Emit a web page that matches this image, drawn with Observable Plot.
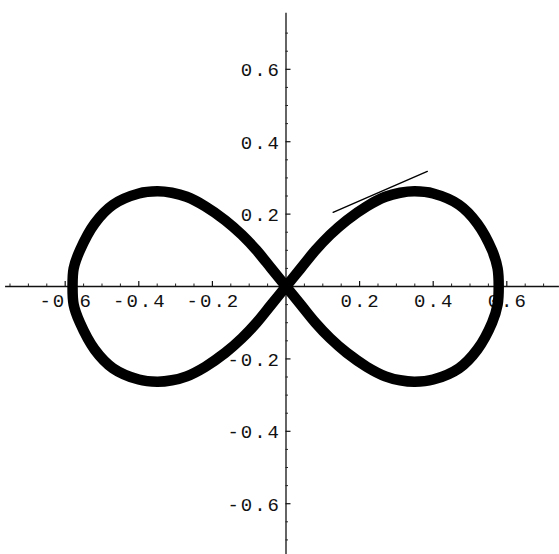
<!DOCTYPE html>
<html>
<head>
<meta charset="utf-8">
<script src="https://cdn.jsdelivr.net/npm/d3@7"></script>
<script src="https://cdn.jsdelivr.net/npm/@observablehq/plot@0.6"></script>
<style>
  html, body { margin: 0; padding: 0; background: #fff; }
</style>
</head>
<body>
<div id="chart"></div>
<script>
// Figure-eight curve, traced as one closed loop:
// origin → upper right → right tip → lower right → origin → upper left → left tip → lower left → origin
const loopX = [
  0, 0.04, 0.08, 0.12, 0.165, 0.22, 0.27, 0.31, 0.35, 0.40, 0.47, 0.52, 0.56, 0.575, 0.578,
  0.575, 0.56, 0.52, 0.47, 0.40, 0.35, 0.31, 0.27, 0.22, 0.165, 0.12, 0.08, 0.04, 0,
  -0.04, -0.08, -0.12, -0.165, -0.22, -0.27, -0.31, -0.35, -0.40, -0.47, -0.52, -0.56, -0.577, -0.58,
  -0.577, -0.56, -0.52, -0.47, -0.40, -0.35, -0.31, -0.27, -0.22, -0.165, -0.12, -0.08, -0.04, 0
];
const loopY = [
  0, 0.05, 0.10, 0.143, 0.183, 0.222, 0.248, 0.259, 0.263, 0.257, 0.226, 0.174, 0.10, 0.05, 0,
  -0.05, -0.10, -0.174, -0.226, -0.257, -0.263, -0.259, -0.248, -0.222, -0.183, -0.143, -0.10, -0.05, 0,
  0.05, 0.10, 0.143, 0.183, 0.222, 0.248, 0.259, 0.263, 0.257, 0.226, 0.174, 0.10, 0.05, 0,
  -0.05, -0.10, -0.174, -0.226, -0.257, -0.263, -0.259, -0.248, -0.222, -0.183, -0.143, -0.10, -0.05, 0
];

// Tangent segment on the upper right lobe
const tangentX = [0.128, 0.384];
const tangentY = [0.205, 0.318];

// Axis ticks and labels
const majorTicks = [-0.6, -0.4, -0.2, 0.2, 0.4, 0.6];
const tickLabels = ["-0.6", "-0.4", "-0.2", "0.2", "0.4", "0.6"];
const minorTicksX = [-0.75, -0.7, -0.65, -0.55, -0.5, -0.45, -0.35, -0.3, -0.25, -0.15, -0.1, -0.05,
                     0.05, 0.1, 0.15, 0.25, 0.3, 0.35, 0.45, 0.5, 0.55, 0.65, 0.7];
const minorTicksY = [-0.7, -0.65, -0.55, -0.5, -0.45, -0.35, -0.3, -0.25, -0.15, -0.1, -0.05,
                     0.05, 0.1, 0.15, 0.25, 0.3, 0.35, 0.45, 0.5, 0.55, 0.65, 0.7];

// Visible extent of the two axis lines
const xAxisExtent = [-0.762, 0.743];
const yAxisExtent = [-0.745, 0.755];

const W = 559, H = 554;
const xDomain = [-0.7758, 0.7432];
const yDomain = [-0.7403, 0.7901];
const unitX = (xDomain[1] - xDomain[0]) / W;   // data units per pixel
const unitY = (yDomain[1] - yDomain[0]) / H;
const majorLen = 5, minorLen = 2.5;

const loop = loopX.map((x, i) => ({x, y: loopY[i]}));
const tangent = tangentX.map((x, i) => ({x, y: tangentY[i]}));
const labels = majorTicks.map((v, i) => ({v, label: tickLabels[i]}));

const chart = Plot.plot({
  width: W,
  height: H,
  margin: 0,
  x: {domain: xDomain, range: [0, W], axis: null},
  y: {domain: yDomain, range: [H, 0], axis: null},
  style: {
    background: "#fff",
    fontFamily: "'Liberation Mono', 'DejaVu Sans Mono', monospace",
    fontSize: "19px",
    letterSpacing: "2px",
    color: "#000"
  },
  marks: [
    // axis lines through the origin
    Plot.ruleY([0], {x1: xAxisExtent[0], x2: xAxisExtent[1], stroke: "#111", strokeWidth: 1.3}),
    Plot.ruleX([0], {y1: yAxisExtent[0], y2: yAxisExtent[1], stroke: "#111", strokeWidth: 1.3}),
    // x-axis ticks (pointing up)
    Plot.ruleX(majorTicks, {y1: 0, y2: majorLen * unitY, stroke: "#111", strokeWidth: 1.2}),
    Plot.ruleX(minorTicksX, {y1: 0, y2: minorLen * unitY, stroke: "#222", strokeWidth: 1}),
    // y-axis ticks (pointing right)
    Plot.ruleY(majorTicks, {x1: 0, x2: majorLen * unitX, stroke: "#111", strokeWidth: 1.2}),
    Plot.ruleY(minorTicksY, {x1: 0, x2: minorLen * unitX, stroke: "#222", strokeWidth: 1}),
    // tick labels
    Plot.text(labels, {x: "v", y: 0, text: "label", dy: 14, dx: 1, fill: "#111", textAnchor: "middle"}),
    Plot.text(labels, {x: 0, y: "v", text: "label", dx: -5, dy: 1, fill: "#111", textAnchor: "end"}),
    // the figure-eight curve
    Plot.line(loop, {x: "x", y: "y", curve: "catmull-rom", stroke: "#000", strokeWidth: 10.5,
                     strokeLinejoin: "round", strokeLinecap: "round"}),
    // tangent segment
    Plot.line(tangent, {x: "x", y: "y", stroke: "#000", strokeWidth: 1.4})
  ]
});

document.getElementById("chart").appendChild(chart);
</script>
</body>
</html>
